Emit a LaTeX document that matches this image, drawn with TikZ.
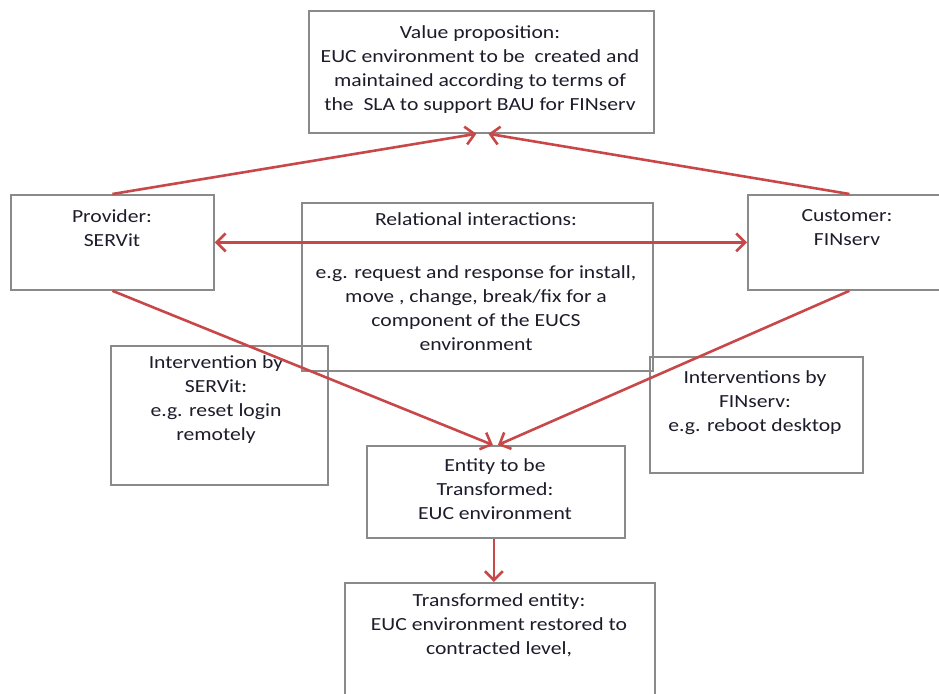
\documentclass[tikz,border=0pt]{standalone}
\usepackage{fontspec}
\setmainfont{Carlito}[FakeStretch=1.17]
\usetikzlibrary{arrows.meta,calc}
\definecolor{linkred}{HTML}{C8484A}
\definecolor{boxgray}{HTML}{8A8A8A}
\definecolor{inkdark}{HTML}{1C1C2A}
\begin{document}
\begin{tikzpicture}[x=1pt,y=-1pt,
  box/.style={draw=boxgray, line width=1.8pt, inner sep=0pt, anchor=north west},
  txt/.style={align=center, font=\fontsize{18.5}{24}\selectfont, text=inkdark, inner sep=0pt, anchor=north},
  link/.style={draw=linkred, line width=2.6pt, -{Straight Barb[length=9pt,width=18pt]}},
  biglink/.style={draw=linkred, line width=2.6pt, {Straight Barb[length=9pt,width=18pt]}-{Straight Barb[length=9pt,width=18pt]}}]
\useasboundingbox (0,0) rectangle (939,693);

% boxes
\node[box, minimum width=345pt, minimum height=122pt] (val) at (308,10) {};
\node[box, minimum width=203pt, minimum height=95pt] (prov) at (10,194) {};
\node[box, minimum width=203pt, minimum height=95pt] (cust) at (747,194) {};
\node[box, minimum width=351pt, minimum height=168pt] (rel) at (301,202) {};
\node[box, minimum width=217pt, minimum height=139pt] (ints) at (110,345) {};
\node[box, minimum width=213pt, minimum height=116pt] (intf) at (649,356) {};
\node[box, minimum width=258pt, minimum height=92pt] (ent) at (366,445) {};
\node[box, minimum width=310pt, minimum height=120pt] (tr) at (344,582) {};

% texts
\node[txt] (valt) at (480,25) {Value proposition:\\EUC environment to be\ \ created and\\maintained according to terms of\\the\ \ SLA to support BAU for FINserv};
\node[txt] (provt) at (112,209) {Provider:\\SERVit};
\node[txt] (custt) at (847,209) {Customer:\\FINserv};
\node[txt] (relt) at (476,212) {Relational interactions:\\[29pt]e.g. request and response for install,\\move , change, break/fix for a\\component of the EUCS\\environment};
\node[txt] (intst) at (216,355) {Intervention by\\SERVit:\\e.g. reset login\\remotely};
\node[txt] (intft) at (755,370) {Interventions by\\FINserv:\\e.g. reboot desktop};
\node[txt] (entt) at (495,458) {Entity to be\\Transformed:\\EUC environment};
\node[txt] (trt) at (499,593) {Transformed entity:\\EUC environment restored to\\contracted level,};

% connectors
\draw[link] (prov.north) -- ([xshift=-5pt]val.south);
\draw[link] (cust.north) -- ([xshift=7pt]val.south);
\draw[biglink] (prov.east) -- (cust.west);
\draw[link] (prov.south) -- ([xshift=-3pt]ent.north);
\draw[link] (cust.south) -- ([xshift=2pt]ent.north);
\draw[link] ([xshift=-2pt]ent.south) -- ([xshift=-2pt]ent.south |- tr.north);
\end{tikzpicture}
\end{document}
